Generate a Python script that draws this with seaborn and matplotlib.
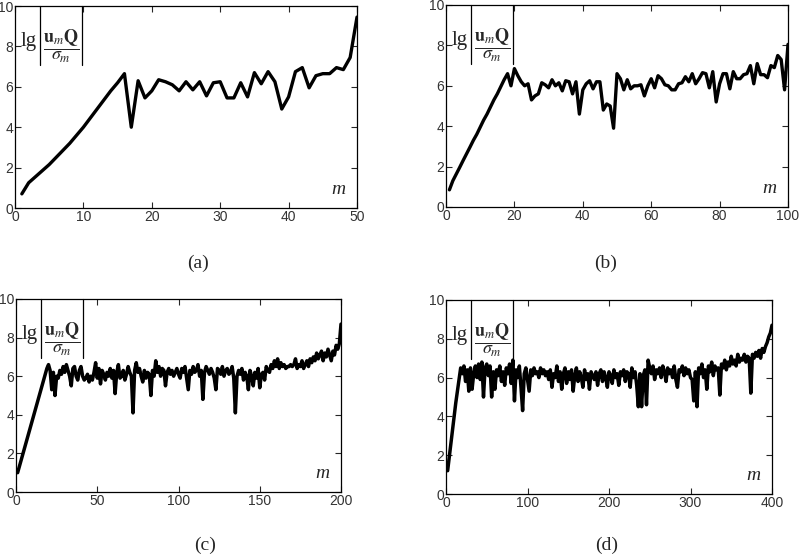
import numpy as np
import matplotlib
matplotlib.use("Agg")
import matplotlib.pyplot as plt
import seaborn as sns

# panel (a): m = 1..50
a_vals = [0.7, 1.25, 1.55, 1.85, 2.15, 2.5, 2.85, 3.2, 3.6, 4.0,
          4.45, 4.9, 5.35, 5.8, 6.2, 6.65, 4.0, 6.3, 5.45, 5.8,
          6.35, 6.25, 6.1, 5.8, 6.25, 5.85, 6.25, 5.55, 6.2, 6.25,
          5.45, 5.45, 6.2, 5.5, 6.7, 6.15, 6.75, 6.25, 4.9, 5.5,
          6.75, 6.95, 5.95, 6.55, 6.65, 6.65, 6.95, 6.85, 7.45, 9.45]

# panel (b): m = 1..100
b_vals = [0.85, 1.3, 1.63, 1.96, 2.3, 2.63, 2.96, 3.3, 3.6, 3.95,
          4.3, 4.6, 4.95, 5.3, 5.6, 5.95, 6.3, 6.6, 6.0, 6.85,
          6.5, 6.2, 6.0, 6.1, 5.3, 5.5, 5.6, 6.15, 6.05, 5.9,
          6.3, 6.0, 6.15, 5.75, 6.25, 6.2, 5.6, 6.2, 4.6, 5.8,
          6.1, 6.25, 5.85, 6.2, 6.2, 4.8, 5.1, 5.0, 3.9, 6.6,
          6.35, 5.8, 6.3, 5.85, 6.0, 6.0, 6.05, 5.5, 6.0, 6.35,
          5.9, 6.5, 6.35, 6.05, 6.0, 5.8, 5.8, 6.1, 6.15, 6.45,
          6.2, 6.6, 6.1, 6.35, 6.65, 6.6, 5.9, 6.7, 5.2, 6.1,
          6.6, 6.6, 5.85, 6.7, 6.35, 6.35, 6.55, 6.6, 7.0, 6.1,
          7.1, 6.55, 6.55, 6.4, 7.0, 6.9, 7.5, 7.3, 5.8, 8.05]

# panel (c): m = 1..200
c_vals = [1.0, 1.3, 1.6, 1.9, 2.2, 2.5, 2.8, 3.1, 3.4, 3.7,
          4.0, 4.3, 4.6, 4.9, 5.2, 5.5, 5.8, 6.1, 6.4, 6.6,
          6.3, 5.3, 6.2, 5.0, 6.0, 5.9, 6.3, 6.1, 6.5, 6.2,
          6.6, 6.3, 6.0, 5.5, 6.4, 6.5, 6.0, 5.8, 6.3, 6.5,
          6.0, 5.8, 5.9, 6.1, 5.7, 6.0, 5.8, 6.2, 6.7, 5.9,
          6.4, 5.6, 6.3, 6.1, 5.8, 6.2, 6.0, 6.4, 5.9, 6.3,
          5.1, 6.2, 6.6, 5.9, 6.0, 6.3, 5.8, 6.1, 6.5, 6.2,
          6.0, 4.1, 6.3, 6.7, 6.2, 6.4, 6.0, 5.7, 6.3, 5.9,
          6.2, 6.1, 5.0, 6.3, 6.0, 6.8, 6.2, 6.5, 6.0, 6.4,
          6.3, 5.5, 6.2, 6.4, 6.1, 6.3, 6.0, 6.2, 6.4, 6.1,
          5.9, 6.4, 6.2, 6.5, 5.9, 5.3, 6.3, 6.1, 6.5, 6.2,
          6.3, 6.6, 6.0, 6.3, 4.8, 6.2, 6.5, 6.3, 6.1, 6.4,
          6.2, 5.9, 5.3, 6.4, 6.3, 6.1, 6.5, 6.0, 6.3, 6.4,
          6.1, 6.2, 6.5, 5.9, 4.1, 6.0, 6.3, 6.1, 6.4, 5.8,
          6.2, 6.0, 5.3, 6.3, 6.0, 5.5, 6.2, 5.9, 6.4, 5.4,
          6.1, 6.2, 5.8, 6.5, 6.3, 6.2, 6.6, 6.4, 6.8, 6.5,
          6.9, 6.4, 6.7, 6.5, 6.6, 6.4, 6.5, 6.5, 6.6, 6.5,
          6.6, 6.9, 6.4, 6.6, 6.5, 6.8, 6.4, 6.6, 6.8, 6.5,
          6.9, 6.7, 7.0, 6.8, 7.2, 6.9, 7.1, 7.3, 6.8, 7.2,
          7.0, 7.4, 7.1, 6.8, 7.3, 7.1, 7.6, 7.4, 7.7, 8.7]

# panel (d): m = 2, 4, ..., 400
d_vals = [1.2, 1.9, 2.6, 3.3, 4.0, 4.7, 5.3, 5.9, 6.5,
          6.2, 6.6, 5.8, 6.4, 5.3, 6.5, 5.4, 6.2, 6.6, 6.0,
          6.7, 5.9, 6.8, 5.0, 6.5, 6.7, 6.1, 6.6, 5.0, 6.3,
          5.4, 6.4, 6.1, 6.6, 5.8, 6.3, 5.6, 6.5, 6.2, 6.7,
          5.7, 6.9, 4.8, 6.4, 6.0, 6.6, 5.5, 4.3, 6.2, 6.5,
          5.9, 5.3, 6.4, 6.1, 6.5, 6.2, 6.3, 6.0, 6.5, 6.2,
          6.4, 6.1, 6.3, 5.9, 6.4, 5.5, 6.2, 6.0, 6.6, 5.8,
          6.3, 5.4, 6.2, 6.5, 5.7, 6.3, 5.9, 6.4, 5.3, 6.1,
          6.5, 5.8, 6.3, 6.0, 5.5, 6.4, 5.9, 6.2, 5.4, 6.3,
          6.1, 5.9, 6.3, 5.6, 6.2, 6.4, 5.8, 6.3, 6.0, 5.5,
          6.3, 6.1, 5.7, 6.4, 6.0, 6.2, 5.6, 6.3, 6.1, 6.4,
          5.8, 6.3, 6.2, 5.5, 6.5, 6.0, 6.3, 5.6, 4.5, 6.2,
          4.5, 6.1, 6.4, 4.6, 6.9, 6.5, 6.2, 6.6, 5.9, 6.4,
          6.2, 6.5, 6.0, 6.6, 6.3, 5.8, 6.5, 6.2, 6.4, 6.0,
          6.6, 5.9, 5.5, 6.4, 6.3, 6.6, 6.1, 6.5, 6.2, 6.4,
          6.0, 5.9, 4.8, 6.3, 4.5, 6.5, 6.2, 6.7, 6.0, 6.4,
          5.4, 6.6, 6.3, 6.8, 6.1, 6.6, 6.4, 6.5, 5.1, 6.7,
          6.5, 6.9, 6.4, 6.8, 6.6, 7.1, 6.7, 6.9, 6.6, 7.2,
          6.8, 7.0, 6.9, 7.2, 6.8, 7.1, 7.0, 5.2, 7.2, 7.0,
          7.3, 7.1, 7.4, 7.0, 7.5, 7.3, 7.6, 7.8, 8.1, 8.3, 8.7]

a_m = np.arange(1, 51)
b_m = np.arange(1, 101)
c_m = np.arange(1, 201)
d_m = np.arange(2, 401, 2)

panels = [
    # m, values, xmax, xticks, axes rect (px: left, bottom, w, h), tag, tag pos, line width
    (a_m, a_vals, 50, [0, 10, 20, 30, 40, 50], (15, 208, 342, 202), "(a)", (198, 263), 2.4),
    (b_m, b_vals, 100, [0, 20, 40, 60, 80, 100], (446, 207, 342, 202), "(b)", (606, 263), 2.4),
    (c_m, c_vals, 200, [0, 50, 100, 150, 200], (16, 492, 325, 193), "(c)", (205, 545), 2.5),
    (d_m, d_vals, 400, [0, 100, 200, 300, 400], (446, 494, 326, 194), "(d)", (607, 545), 2.5),
]

sns.set_style("ticks")
plt.rcParams["mathtext.fontset"] = "stix"

W, H = 800, 560
fig = plt.figure(figsize=(W / 100, H / 100), dpi=100)

frac = r"$\dfrac{\mathbf{u}_m\mathbf{Q}}{\sigma_m}$"

for m, vals, xmax, xt, (l, b, w, h), tag, (tx, ty), lw in panels:
    ax = fig.add_axes([l / W, 1 - b / H, w / W, h / H])
    sns.lineplot(x=m, y=vals, ax=ax, color="black", lw=lw, estimator=None)
    ax.set_xlim(0, xmax)
    ax.set_ylim(0, 10)
    ax.set_xticks(xt)
    ax.set_yticks([0, 2, 4, 6, 8, 10])
    ax.tick_params(direction="in", top=True, right=True, length=4, width=0.8,
                   labelsize=10, labelcolor="#333333", pad=1.5)
    for lab in ax.get_xticklabels() + ax.get_yticklabels():
        lab.set_family("Liberation Sans")
    for s in ax.spines.values():
        s.set_linewidth(0.9)
        s.set_color("black")

    # y-label block: lg |u_m Q / sigma_m| in the top-left corner (pixel offsets)
    px = lambda dx: dx / w
    py = lambda dy: 1 - dy / h
    ax.text(px(14), py(40), "lg", transform=ax.transAxes, ha="center",
            va="baseline", fontsize=15, family="Liberation Serif")
    ax.text(px(46.5), py(40), frac, transform=ax.transAxes, ha="center",
            va="center", fontsize=13)
    for bx in (25, 67):
        ax.plot([px(bx), px(bx)], [py(0), py(59)], transform=ax.transAxes,
                color="black", lw=0.9, clip_on=False)

    ax.text(0.965, 0.05, "m", transform=ax.transAxes, ha="right", va="bottom",
            fontsize=14, family="Liberation Serif", style="italic")
    fig.text(tx / W, 1 - ty / H, tag, ha="center", va="center",
             fontsize=14, family="Liberation Serif")

fig.savefig("out.png", dpi=100)
